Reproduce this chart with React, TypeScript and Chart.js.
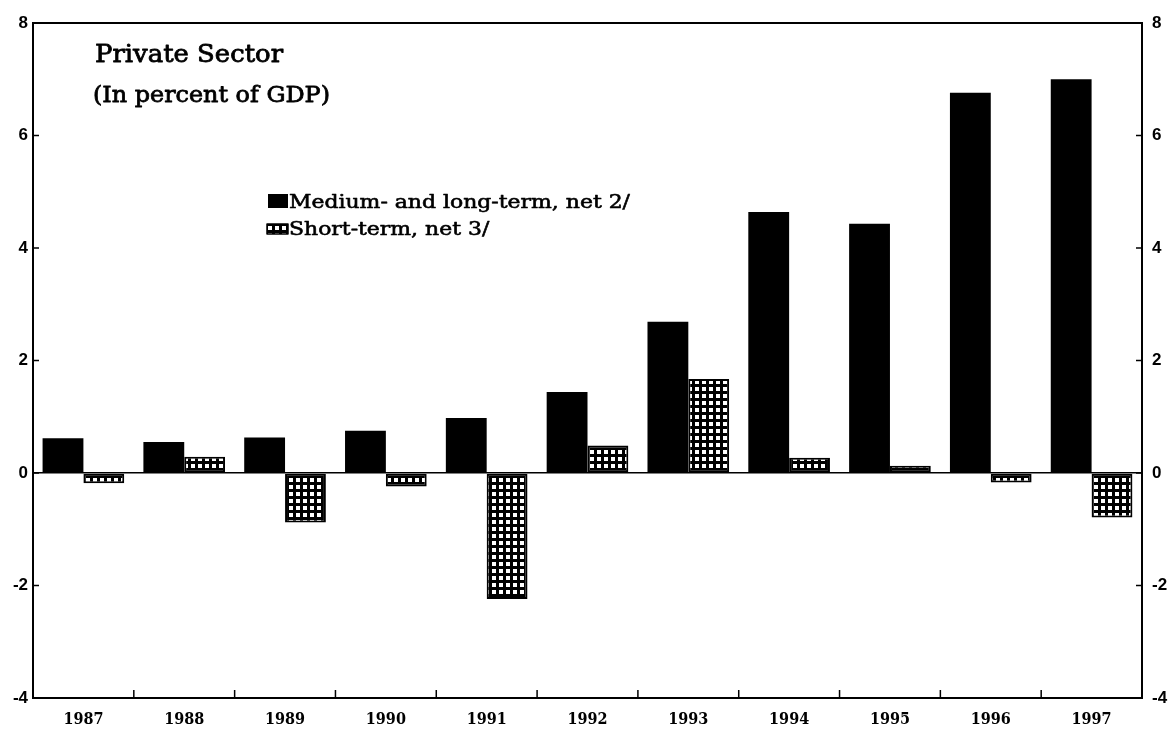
import { useEffect, useRef } from 'react';
import { Chart, registerables } from 'chart.js';

Chart.register(...registerables);

const categories = ['1987', '1988', '1989', '1990', '1991', '1992', '1993', '1994', '1995', '1996', '1997'];
const mediumLongTerm = [0.62, 0.55, 0.63, 0.75, 0.98, 1.44, 2.69, 4.64, 4.43, 6.76, 7.0];
const shortTerm = [-0.18, 0.29, -0.88, -0.24, -2.24, 0.49, 1.67, 0.27, 0.13, -0.17, -0.79];
const yTickValues = [-4, -2, 0, 2, 4, 6, 8];
const seriesLabels = ['Medium- and long-term, net 2/', 'Short-term, net 3/'];
const titleLines = ['Private Sector', '(In percent of GDP)'];

function makeGridPattern(ctx: CanvasRenderingContext2D): CanvasPattern {
  const c = document.createElement('canvas');
  c.width = 7;
  c.height = 7;
  const g = c.getContext('2d')!;
  g.fillStyle = '#000';
  g.fillRect(0, 0, 7, 7);
  g.fillStyle = '#fff';
  g.fillRect(2, 2, 4, 4);
  return ctx.createPattern(c, 'repeat')!;
}

function drawText(c: CanvasRenderingContext2D, text: string, x: number, y: number, k: number) {
  c.save();
  c.translate(x, y);
  c.scale(k, 1);
  c.fillText(text, 0, 0);
  c.strokeText(text, 0, 0);
  c.restore();
}

export default function App() {
  const ref = useRef<HTMLCanvasElement>(null);

  useEffect(() => {
    const canvas = ref.current!;
    const ctx = canvas.getContext('2d')!;
    const pattern = makeGridPattern(ctx);

    const decor = {
      id: 'decor',
      afterDraw(chart: any) {
        const c = chart.ctx as CanvasRenderingContext2D;
        const { left, right, top, bottom } = chart.chartArea;
        const yS = chart.scales.y;
        const xS = chart.scales.x;
        c.save();
        c.strokeStyle = '#000';
        c.lineWidth = 2;
        c.strokeRect(left, top, right - left, bottom - top);
        c.lineWidth = 1.5;
        c.beginPath();
        yTickValues.forEach((v) => {
          const y = yS.getPixelForValue(v);
          c.moveTo(left, y);
          c.lineTo(left + 6, y);
          c.moveTo(right - 6, y);
          c.lineTo(right, y);
        });
        for (let i = 0; i < categories.length - 1; i++) {
          const x = (xS.getPixelForValue(i) + xS.getPixelForValue(i + 1)) / 2;
          c.moveTo(x, bottom);
          c.lineTo(x, bottom - 8);
        }
        c.stroke();

        // title
        c.fillStyle = '#000';
        c.strokeStyle = '#000';
        c.lineWidth = 0.8;
        c.lineJoin = 'round';
        c.textBaseline = 'alphabetic';
        c.textAlign = 'left';
        c.font = '24.5px "DejaVu Serif", serif';
        drawText(c, titleLines[0], 95, 62, 188 / c.measureText(titleLines[0]).width);
        c.font = '23px "DejaVu Serif", serif';
        drawText(c, titleLines[1], 93, 102, 237 / c.measureText(titleLines[1]).width);

        // legend
        c.fillStyle = '#000';
        c.fillRect(268, 194, 20, 14);
        c.fillStyle = pattern;
        c.fillRect(267, 224, 21, 10);
        c.lineWidth = 1.5;
        c.strokeRect(267, 224, 21, 10);
        c.fillStyle = '#000';
        c.lineWidth = 0.6;
        c.font = '18.5px "DejaVu Serif", serif';
        const k = 341 / c.measureText(seriesLabels[0]).width;
        drawText(c, seriesLabels[0], 289, 208, k);
        drawText(c, seriesLabels[1], 289, 235, k);
        c.restore();
      },
    };

    const chart = new Chart(canvas, {
      type: 'bar',
      data: {
        labels: categories,
        datasets: [
          {
            label: seriesLabels[0],
            data: mediumLongTerm,
            backgroundColor: '#000',
            borderWidth: 0,
            yAxisID: 'y',
          },
          {
            label: seriesLabels[1],
            data: shortTerm,
            backgroundColor: pattern as any,
            borderColor: '#000',
            borderWidth: 2,
            borderSkipped: false,
            yAxisID: 'y',
          },
        ],
      },
      options: {
        responsive: false,
        animation: false,
        events: [],
        layout: { padding: { top: 23, left: 0, right: 0, bottom: 0 } },
        datasets: { bar: { categoryPercentage: 0.81, barPercentage: 1.0 } },
        plugins: {
          legend: { display: false },
          title: { display: false },
          tooltip: { enabled: false },
        },
        scales: {
          x: {
            type: 'category',
            offset: true,
            grid: { display: false },
            border: { display: false },
            ticks: {
              color: '#000',
              padding: 4,
              maxRotation: 0,
              font: { family: '"DejaVu Serif Condensed", "DejaVu Serif", serif', weight: 'bold', size: 16 },
            },
            afterFit(scale: any) {
              scale.height = 34;
            },
          },
          y: {
            position: 'left',
            min: -4,
            max: 8,
            afterBuildTicks(scale: any) {
              scale.ticks = yTickValues.map((v) => ({ value: v }));
            },
            grid: {
              drawTicks: false,
              drawOnChartArea: true,
              color: (c: any) => (c.tick && c.tick.value === 0 ? '#000' : 'rgba(0,0,0,0)'),
              lineWidth: 1.5,
            },
            border: { display: false },
            ticks: {
              color: '#000',
              padding: 5,
              font: { family: '"Liberation Sans Narrow", "Liberation Sans", sans-serif', weight: 'bold', size: 17 },
            },
            afterFit(scale: any) {
              scale.width = 33;
            },
          },
          y2: {
            position: 'right',
            min: -4,
            max: 8,
            afterBuildTicks(scale: any) {
              scale.ticks = yTickValues.map((v) => ({ value: v }));
            },
            grid: { display: false, drawTicks: false },
            border: { display: false },
            ticks: {
              color: '#000',
              padding: 10,
              font: { family: '"Liberation Sans Narrow", "Liberation Sans", sans-serif', weight: 'bold', size: 17 },
            },
            afterFit(scale: any) {
              scale.width = 34;
            },
          },
        },
      },
      plugins: [decor],
    });

    return () => chart.destroy();
  }, []);

  return (
    <div style={{ position: 'fixed', left: 0, top: 0, width: 1176, height: 732, background: '#fff' }}>
      <canvas ref={ref} width={1176} height={732} />
    </div>
  );
}
